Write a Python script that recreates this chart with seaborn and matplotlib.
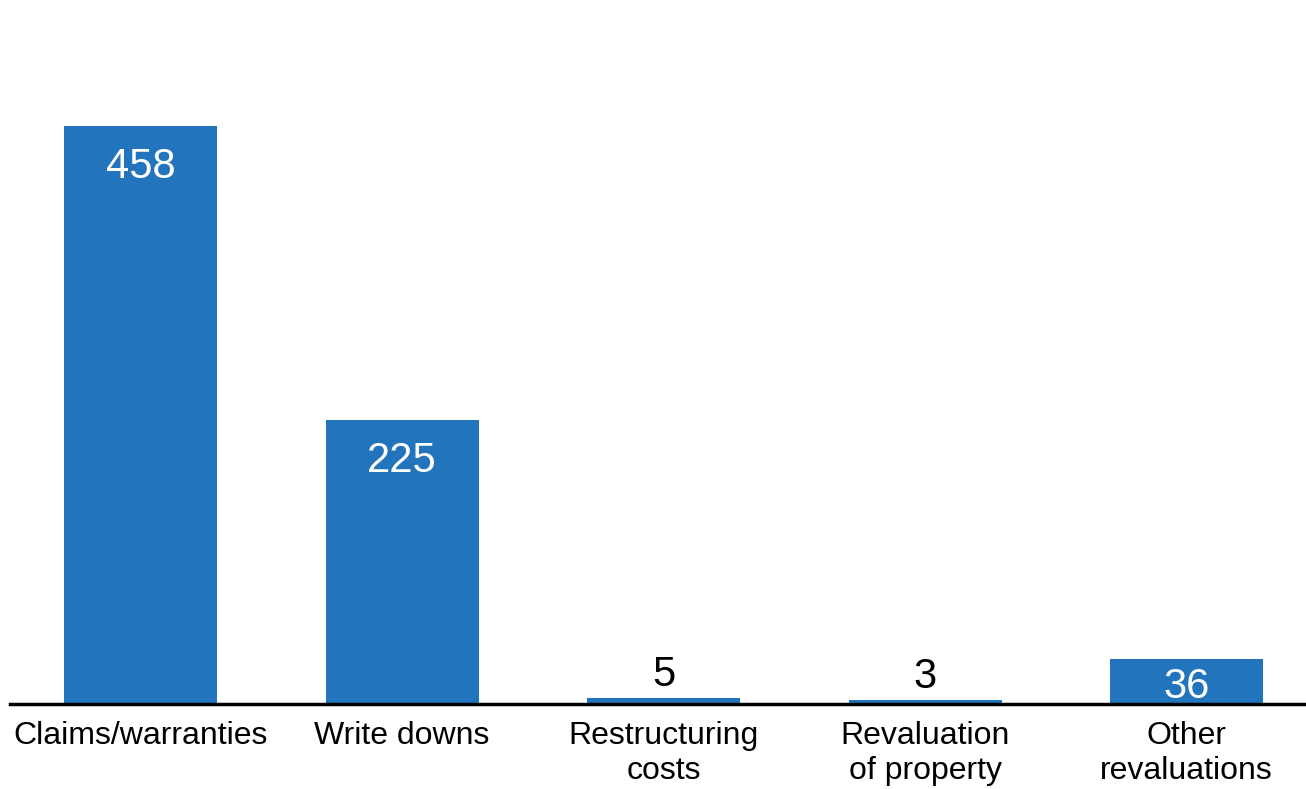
import matplotlib
matplotlib.use("Agg")
import matplotlib.pyplot as plt
import seaborn as sns
import pandas as pd

categories = ["Claims/warranties", "Write downs", "Restructuring\ncosts",
              "Revaluation\nof property", "Other\nrevaluations"]
values = [458, 225, 5, 3, 36]

sns.set_theme(style="white")
plt.rcParams["font.family"] = ["Liberation Sans", "DejaVu Sans"]

df = pd.DataFrame({"cat": categories, "val": values})

fig = plt.figure(figsize=(13.06, 7.89), dpi=100)
ax = fig.add_axes([10 / 1306, 85 / 789, 1296 / 1306, 704 / 789])
sns.barplot(data=df, x="cat", y="val", color="#2274BD", saturation=1,
            width=0.585, linewidth=0, ax=ax)

ax.set_xlim(-0.5, 4.457)
ax.set_ylim(0, 557.8)
for s in ["top", "right", "left"]:
    ax.spines[s].set_visible(False)
ax.spines["bottom"].set_linewidth(2.5)
ax.spines["bottom"].set_color("black")
ax.set_yticks([])
ax.set_xlabel("")
ax.set_ylabel("")
ax.tick_params(axis="x", length=0, pad=12, labelsize=23, labelcolor="black")
for t in ax.get_xticklabels():
    t.set_linespacing(1.25)

for i, v in enumerate(values):
    if v > 20:
        ax.annotate(str(v), (i, v), xytext=(0, -15 if v > 100 else -6),
                    textcoords="offset points", ha="center", va="top",
                    color="white", fontsize=30)
    else:
        ax.annotate(str(v), (i, v), xytext=(0, 2), textcoords="offset points",
                    ha="center", va="bottom", color="black", fontsize=30)

fig.savefig("out.png", dpi=100)
